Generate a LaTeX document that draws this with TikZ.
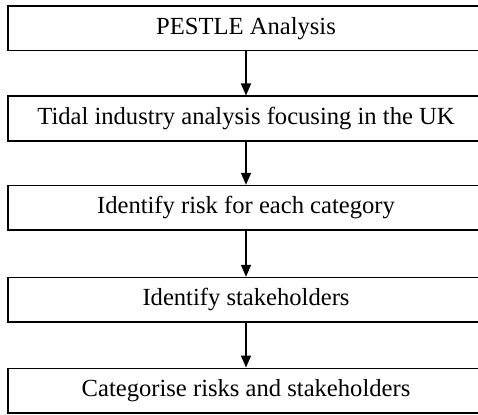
\documentclass[tikz,border=0pt]{standalone}
\usepackage{fontspec}
\setmainfont{Liberation Serif}
\usetikzlibrary{arrows.meta}
\begin{document}
\begin{tikzpicture}[x=1pt,y=1pt,
  stepbox/.style={draw=black, line width=1.5pt, rectangle, minimum width=476pt,
    minimum height=44.5pt, inner sep=0pt, font=\fontsize{24.6}{28}\selectfont},
  flow/.style={line width=1.5pt, -{Triangle[width=10pt,length=12pt]}}]
  \useasboundingbox (0,0) rectangle (478,-414);
  \clip (0,0) rectangle (478,-414);
  \node[stepbox] (s1) at (246,-28.2) {PESTLE Analysis};
  \node[stepbox] (s2) at (246,-118.5) {Tidal industry analysis focusing in the UK};
  \node[stepbox] (s3) at (246,-207.8) {Identify risk for each category};
  \node[stepbox] (s4) at (246,-299.8) {Identify stakeholders};
  \node[stepbox] (s5) at (246,-390.5) {Categorise risks and stakeholders};
  \draw[flow] (s1) -- (s2);
  \draw[flow] (s2) -- (s3);
  \draw[flow] (s3) -- (s4);
  \draw[flow] (s4) -- (s5);
\end{tikzpicture}
\end{document}
